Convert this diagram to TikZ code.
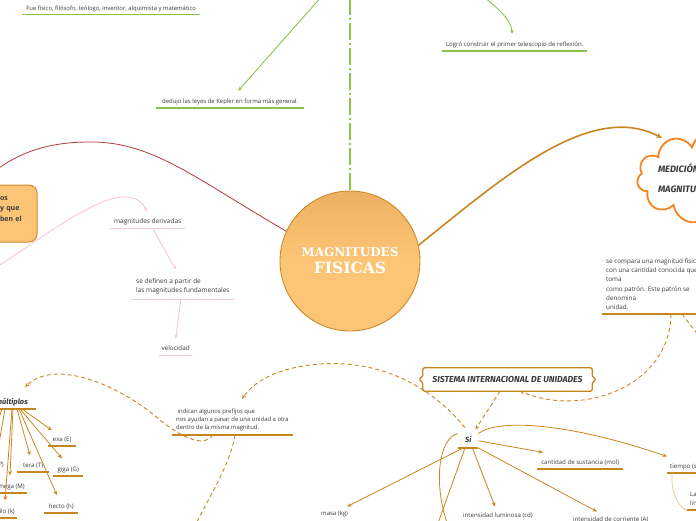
\documentclass[tikz,border=0pt]{standalone}
\usepackage{fontspec}
\setmainfont{Open Sans}
\newfontfamily\titlefont{DejaVu Serif}
\newfontfamily\handfont{Fira Sans}
\usetikzlibrary{arrows.meta,shapes.symbols}
\definecolor{grn}{HTML}{8BC34A}
\definecolor{brn}{HTML}{C8861E}
\definecolor{orgfill}{HTML}{FCC575}
\definecolor{orgtop}{HTML}{EDB063}
\definecolor{circb}{HTML}{C98A2B}
\definecolor{cloudc}{HTML}{F5841F}
\definecolor{redc}{HTML}{B23A3A}
\definecolor{pinkc}{HTML}{F8C4DA}
\definecolor{txtc}{HTML}{3A3A3A}
\definecolor{tanc}{HTML}{E6C28C}
\tikzset{
  lbl/.style={inner xsep=0pt, inner ysep=2.6pt, text height=4.6pt, text depth=1.4pt, text=txtc, font=\fontsize{#1}{7}\selectfont},
  lbl/.default=6,
  mlbl/.style={align=left, inner xsep=4pt, text=txtc},
  ulg/.style={append after command={(\tikzlastnode.south west) edge[draw=grn, line width=1.4pt] (\tikzlastnode.south east)}},
  ulp/.style={append after command={(\tikzlastnode.south west) edge[draw=pinkc, line width=1pt] (\tikzlastnode.south east)}},
  ulb/.style={append after command={(\tikzlastnode.south west) edge[draw=brn, line width=1.4pt] (\tikzlastnode.south east)}},
  hand/.style={font=\handfont\bfseries\itshape\fontsize{#1}{#1}\selectfont, text=txtc},
  garr/.style={draw=grn, line width=0.9pt, -{Stealth[length=4pt,width=3.5pt]}},
  parr/.style={draw=pinkc, line width=0.9pt, -{Stealth[length=4pt,width=3.5pt]}},
  barr/.style={draw=brn, line width=0.8pt, -{Stealth[length=4.5pt,width=3.8pt]}},
  bline/.style={draw=brn, line width=0.8pt},
  dsh/.style={draw=brn, line width=0.9pt, dash pattern=on 4pt off 3pt},
  dtip/.style={-{Stealth[length=4.5pt,width=3.8pt]}},
}
\begin{document}
\begin{tikzpicture}[x=1pt,y=-1pt]
\useasboundingbox (0,0) rectangle (696,520);

% ---------- green branch ----------
\node[lbl=5.9, ulg, minimum width=178, anchor=south west] (fue) at (22,14.5) {Fue físico, filósofo, teólogo, inventor, alquimista y matemático};
\node[lbl=5.95, ulg, minimum width=148, anchor=south west] (ded) at (156,108) {dedujo las leyes de Kepler en forma más general.};
\node[lbl=6.05, ulg, minimum width=145, anchor=south west] (log) at (442,51) {Logró construir el primer telescopio de reflexión.};

% ---------- central circle ----------
\node[circle, minimum size=140, inner sep=0, draw=circb, line width=0.9pt, top color=orgtop, bottom color=orgfill, middle color=orgfill, align=center, text=white, font=\titlefont\bfseries] (mag) at (350,261) {{\fontsize{12}{14}\selectfont MAGNITUDES}\\[5pt]{\fontsize{15.5}{17}\selectfont FISICAS}};

\coordinate (g1) at (322,-4);
\coordinate (g2) at (484,-3);
\coordinate (gt) at (350,-2);
\draw[garr] (g1) -- ([shift={(8,-5.6)}]ded.north);
\draw[garr] (g2) .. controls (500,10) and (511,20) .. ([shift={(-2.5,-5.6)}]log.north);
\draw[draw=grn, line width=2pt, dash pattern=on 17pt off 3pt on 2pt off 3pt] (gt) -- (mag.north);

% ---------- left box + red curve ----------
\node[rectangle, rounded corners=8pt, draw=circb, line width=1pt, fill=orgfill, minimum width=67, minimum height=57, align=left, text width=60, inner xsep=3.5pt, inner ysep=0pt, font=\bfseries\fontsize{7}{10.5}\selectfont, text=txtc] (fund) at (3.5,213.5) {\hspace*{26.5pt}os\\\hspace*{26.5pt}y que\\\hspace*{26.5pt}ben el\\[-1pt]\mbox{}};
\coordinate (rl) at (-4,170);
\draw[draw=redc, line width=0.8pt] (mag.155) .. controls (190,175) and (150,140) .. (85,142) .. controls (45,143) and (20,153) .. (rl);

% ---------- pink branch ----------
\node[lbl=6.5, ulp, minimum width=75, anchor=south west] (der) at (110,228) {magnitudes derivadas};
\node[mlbl, ulp, inner ysep=4.3pt, font=\fontsize{6.5}{9}\selectfont, anchor=south west] (def) at (132,299) {se definen a partir de\\las magnitudes fundamentales};
\node[lbl=6.4, ulp, minimum width=33, anchor=south west] (vel) at (159,355) {velocidad};
\coordinate (pl) at (-3,267);
\draw[parr] (pl) .. controls (60,225) and (100,195) .. (128,197) .. controls (138,198) and (144,204) .. ([shift={(-1.5,-5)}]der.north);
\draw[parr] ([xshift=4.5]der.south) -- ([shift={(-7,-5)}]def.north);
\draw[parr] ([xshift=-2]def.south) -- ([shift={(0,-5)}]vel.north);

% ---------- cloud ----------
\node[cloud, cloud puffs=11, draw=cloudc, line width=1.8pt, fill=white, minimum width=150, minimum height=92, inner sep=0, align=left, hand=9.3] (cloud) at (712,178) {\makebox[0pt][l]{\hspace*{-54pt}MEDICIÓN}\\[11pt]\makebox[0pt][l]{\hspace*{-54pt}MAGNITUDES}};
\draw[draw=brn, line width=1.6pt, -{Stealth[length=6pt,width=5pt]}] (mag.13) .. controls (500,180) and (590,100) .. ([shift={(-50,-40)}]cloud.center);

\node[mlbl, ulb, inner ysep=4.5pt, font=\fontsize{6.3}{9.1}\selectfont, anchor=south west] (txtR) at (602,314) {se compara una magnitud física\\con una cantidad conocida que\\toma\\como patrón. Este patrón se\\denomina\\unidad.};

% ---------- SI system ----------
\node[hand=8.7, minimum width=169, minimum height=23, inner sep=0] (sis) at (507.5,379.5) {SISTEMA INTERNACIONAL DE UNIDADES};
\draw[draw=brn, line width=1.3pt, rounded corners=1.5pt] (sis.north west) -- (sis.north east) -- ([yshift=3pt]sis.east) -- ([xshift=4pt]sis.east) -- ([yshift=-3pt]sis.east) -- (sis.south east) -- (sis.south west) -- ([yshift=-3pt]sis.west) -- ([xshift=-4pt]sis.west) -- ([yshift=3pt]sis.west) -- cycle;

\node[hand=7.5, inner xsep=0pt, inner ysep=4pt, text height=5pt, text depth=1pt, minimum width=20, anchor=south west, ulb] (si) at (458,448) {Si};

\node[mlbl, ulb, inner ysep=3.6pt, font=\fontsize{5.9}{8.2}\selectfont, anchor=south west] (ind) at (172,435) {\hspace*{1.5pt}indican algunos prefijos que\\nos ayudan a pasar de una unidad a otra\\dentro de la misma magnitud.};

\node[hand=7.5, inner xsep=8pt, inner ysep=3pt, text height=5pt, text depth=1.5pt, anchor=south east, ulb] (mul) at (36,409) {múltiplos};

\coordinate (dr) at (708,348);
\coordinate (dd) at (195,526);
\draw[dsh, dtip] ([xshift=69]txtR.south west) .. controls (670,385) and (585,418) .. ([xshift=12.5]sis.south);
\draw[dsh] ([xshift=80]txtR.south west) -- (dr);
\draw[dsh, dtip] ([xshift=-7.5]sis.south) -- ([shift={(-3,-4)}]si.north east);
\draw[dsh, dtip] ([shift={(7,-6)}]si.north west) .. controls (430,385) and (380,360) .. (320,364) .. controls (280,367) and (255,380) .. ([shift={(70,-6)}]ind.north west);
\draw[dsh, dtip] ([xshift=41]ind.south west) .. controls (205,447) and (185,440) .. (160,420) .. controls (120,385) and (55,358) .. ([shift={(-11,-9)}]mul.north east);
\draw[dsh] ([xshift=63]ind.south west) .. controls (230,465) and (210,495) .. (dd);

% prefixes
\node[lbl=6.1, ulb, minimum width=28, anchor=south west] (exa) at (48,446) {exa (E)};
\node[lbl=6.1, ulb, minimum width=30, anchor=south west] (giga) at (53,476) {giga (G)};
\node[lbl=6.1, ulb, minimum width=32, anchor=south west] (tera) at (17,472) {tera (T)};
\node[lbl=6.1, ulb, minimum width=34, anchor=south west] (hecto) at (44,513) {hecto (h)};
\node[lbl=6.1, ulb, inner xsep=2pt, anchor=south east] (mega) at (27,493) {mega (M)};
\node[lbl=6.1, ulb, inner xsep=2pt, anchor=south east] (kilo) at (17,518) {kilo (k)};
\node[lbl=6.1, anchor=base east] (peta) at (4,466) {(P)};
\coordinate (pp1) at (-3,455);
\coordinate (pp2) at (-3,424);
\draw[barr] ([xshift=-14]mul.south east) -- ([shift={(4,-4)}]exa.north west);
\draw[barr] ([xshift=-16]mul.south east) -- ([shift={(9,-6)}]giga.north west);
\draw[barr] ([xshift=-19]mul.south east) -- ([shift={(13,-5)}]tera.north west);
\draw[barr] ([xshift=-17]mul.south east) -- ([shift={(13,-6)}]hecto.north west);
\draw[barr] ([xshift=-23]mul.south east) -- ([shift={(-17,-6)}]mega.north east);
\draw[barr] ([xshift=-24]mul.south east) -- ([shift={(-12,-6)}]kilo.north east);
\draw[bline] ([xshift=-31]mul.south east) -- (pp1);
\draw[bline] ([xshift=-34]mul.south east) -- (pp2);

% SI children
\node[lbl=6.1, ulb, minimum width=86, anchor=south west] (cant) at (537,469) {cantidad de sustancia (mol)};
\node[lbl=6.1, ulb, inner xsep=3pt, anchor=south west] (tie) at (667,473) {tiempo (s)};
\node[mlbl, ulb, inner ysep=4.5pt, inner xsep=3pt, font=\fontsize{6.1}{9}\selectfont, anchor=south west] (la) at (687,510) {La\\lín};
\node[lbl=6.1, anchor=base west] (lum) at (463,517) {intensidad luminosa (cd)};
\node[lbl=6.1, anchor=base west] (corr) at (573,521.5) {intensidad de corriente (A)};
\node[lbl=6.0, anchor=base west] (masa) at (321,515.5) {masa (kg)};

\coordinate (sd1) at (437,526);
\coordinate (sd2) at (448,526);
\draw[barr] (si.east) -- ([shift={(6,-5)}]cant.north west);
\draw[barr] (si.north east) .. controls (495,420) and (560,420) .. ([shift={(0,-5)}]tie.north west);
\draw[barr] (si.south east) -- ([shift={(24,-2.5)}]corr.north west);
\draw[barr] ([xshift=-6]si.south east) -- ([shift={(32,-3)}]lum.north west);
\draw[barr] ([xshift=5]si.south west) -- ([shift={(-1,-1.5)}]masa.north east);
\draw[bline] ([xshift=7]si.south west) -- (sd1);
\draw[bline] (si.north west) .. controls (440,437) and (432,480) .. (sd2);
\draw[draw=tanc, line width=0.7pt] ([xshift=5]tie.south west) -- ++(0,8) .. controls +(0,14) and +(-6,0) .. (la.south west);
\end{tikzpicture}
\end{document}
